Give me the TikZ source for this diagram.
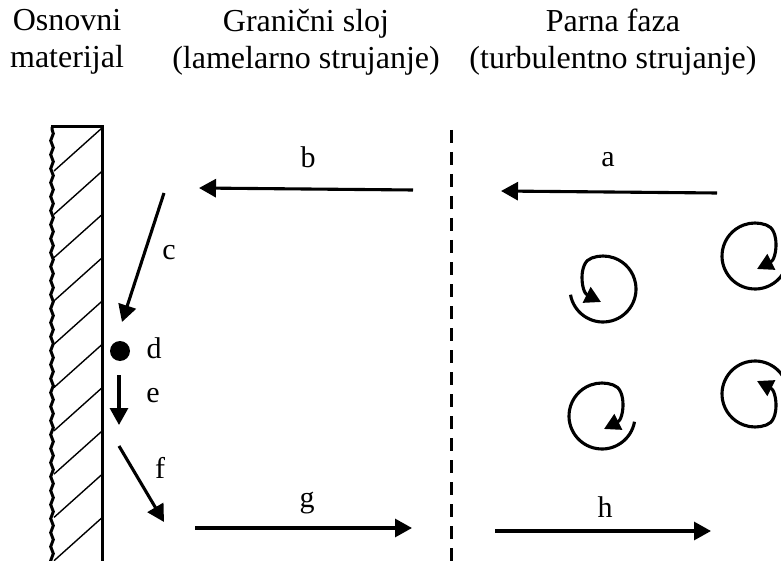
\documentclass[tikz,border=0pt]{standalone}
\usepackage{fontspec}
\setmainfont{Liberation Serif}
\usetikzlibrary{arrows.meta,decorations.pathmorphing}

\tikzstyle{flow} = [line width=3.1pt,-{Triangle[length=17pt,width=18pt]}]
\tikzstyle{vortex} = [line width=3.1pt,-{Triangle[length=16pt,width=17pt]}]
\tikzstyle{title} = [align=center,inner sep=0pt,anchor=north,font=\fontsize{32}{37}\selectfont]
\tikzstyle{letter} = [inner sep=0pt,anchor=base,font=\fontsize{30}{34}\selectfont]
\tikzstyle{wall} = [line width=3pt]
\tikzstyle{hatch} = [line width=1.4pt]

\begin{document}
\begin{tikzpicture}[x=1pt,y=-1pt]
	\useasboundingbox (0,0) rectangle (781,561);
	\clip (0,0) rectangle (781,561);
	% headings
	\node[title] (osn) at (67,9) {Osnovni\\materijal};
	\node[title] (gran) at (306,9) {Granični sloj\\(lamelarno strujanje)};
	\node[title] (parna) at (613,9) {Parna faza\\(turbulentno strujanje)};
	% base material
	\draw[wall,decorate,decoration={snake,amplitude=1.3pt,segment length=14pt}] (52,565) -- (52,127);
	\draw[wall] (51,127) -- (102,127) -- (102,565);
	\foreach \y in {128,171.3,...,600}
	{\draw[hatch] (102,\y) -- (54,\y+43);}
	% boundary of the layer
	\coordinate (top) at (451,130);
	\coordinate (bot) at (451,561);
	\draw[line width=3pt,dash pattern=on 13pt off 9pt] (top) -- (bot);
	% transport steps
	\coordinate (aS) at (717,193);
	\coordinate (aE) at (501,191);
	\coordinate (bS) at (413,190);
	\coordinate (bE) at (199,188);
	\coordinate (cS) at (164,193);
	\coordinate (cE) at (122,322);
	\node[circle,fill,inner sep=0pt,minimum size=20pt] (dot) at (120,351) {};
	\coordinate (eS) at (119,375);
	\coordinate (eE) at (119,425);
	\coordinate (fS) at (119,446);
	\coordinate (fE) at (164,522);
	\coordinate (gS) at (195,528);
	\coordinate (gE) at (412,528);
	\coordinate (hS) at (495,531);
	\coordinate (hE) at (711,531);
	\draw[flow] (aS) -- (aE);
	\draw[flow] (bS) -- (bE);
	\draw[flow] (cS) -- (cE);
	\draw[flow] (eS) -- (eE);
	\draw[flow] (fS) -- (fE);
	\draw[flow] (gS) -- (gE);
	\draw[flow] (hS) -- (hE);
	\node[letter] (la) at (608,167) {a};
	\node[letter] (lb) at (308,168) {b};
	\node[letter] (lc) at (169,259) {c};
	\node[letter] (ld) at (154,358) {d};
	\node[letter] (le) at (153,402) {e};
	\node[letter] (lf) at (160,478) {f};
	\node[letter] (lg) at (307,507) {g};
	\node[letter] (lh) at (605,517) {h};
	% eddies
	\foreach \cx/\cy/\sx/\sy in {603/289/1/1,602/416/-1/1,755/256/-1/1,755/394/-1/-1}
	{\draw[vortex,shift={(\cx,\cy)},xscale=\sx,yscale=\sy] (170:33)
		arc[start angle=170,end angle=-110,radius=33]
		.. controls (-25,-27) and (-22,3) .. (-2,13);}
\end{tikzpicture}
\end{document}
